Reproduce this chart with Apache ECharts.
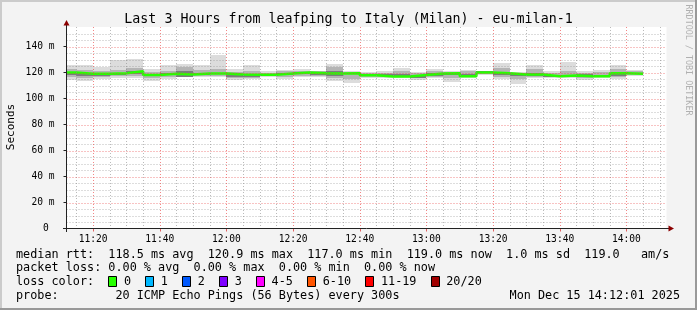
<!DOCTYPE html>
<html><head><meta charset="utf-8">
<script src="https://cdn.jsdelivr.net/npm/echarts@6/dist/echarts.min.js"></script>
<style>html,body{margin:0;padding:0;background:#f3f3f3;overflow:hidden}#c{width:697px;height:310px}</style>
</head><body><div id="c"></div>
<script>
// ---------- data ----------
const titleText = 'Last 3 Hours from leafping to Italy (Milan) - eu-milan-1';
const graphStart = '11:12:01';
const graphEnd = '14:12:01';
const stepEnds = ['11:15','11:20','11:25','11:30','11:35','11:40','11:45','11:50','11:55','12:00',
  '12:05','12:10','12:15','12:20','12:25','12:30','12:35','12:40','12:45','12:50',
  '12:55','13:00','13:05','13:10','13:15','13:20','13:25','13:30','13:35','13:40',
  '13:45','13:50','13:55','14:00','14:05'];
const median  = [120.0,119.0,119.0,119.5,120.9,118.0,119.0,118.5,119.2,119.2,118.5,118.2,118.2,119.2,120.0,119.5,119.3,119.5,117.8,117.0,117.0,118.0,119.2,119.5,117.2,120.0,119.5,118.5,118.5,117.2,117.7,117.2,117.2,119.5,119.0];
const outerLo = [114.4,113.3,115.0,115.5,116.0,113.3,115.2,116.4,116.4,116.4,114.1,115.2,116.4,115.2,116.4,116.4,113.3,112.0,115.9,115.9,115.9,114.4,115.6,112.5,115.9,117.8,115.2,110.8,115.9,115.9,115.9,114.4,115.9,115.2,117.5];
const outerHi = [125.5,126.0,124.0,129.5,130.5,122.8,125.4,126.7,125.4,133.8,122.8,125.4,121.5,122.0,122.8,121.5,126.2,121.0,120.5,121.5,123.5,120.5,123.0,121.5,122.0,121.5,127.2,120.5,125.4,121.5,128.0,121.5,122.0,125.4,122.0];
const midLo   = [116.5,116.0,116.5,117.0,117.5,115.5,116.5,117.0,117.0,117.5,116.0,116.0,117.0,116.5,117.5,117.5,116.0,115.0,116.5,116.5,116.5,115.5,116.5,115.5,116.5,118.5,116.5,115.0,116.5,116.5,116.5,115.5,116.5,116.5,118.0];
const midHi   = [122.5,122.0,121.0,122.0,123.5,120.5,121.5,124.5,122.0,122.5,120.5,121.5,120.0,121.0,121.5,121.0,124.0,120.5,119.5,120.0,121.5,119.5,121.0,120.5,121.0,121.0,123.5,119.5,122.5,120.0,121.5,120.0,120.5,122.5,121.0];
const darkLo  = [118.0,117.0,117.0,118.0,118.5,117.0,118.0,116.8,118.0,118.5,116.8,116.8,117.5,118.0,118.5,118.0,117.5,118.5,117.0,117.0,117.0,116.0,117.5,118.0,117.0,119.5,118.0,117.5,117.0,116.8,117.0,117.2,117.0,117.2,118.5];
const darkHi  = [120.5,119.5,119.0,120.0,121.0,118.5,119.5,121.0,120.0,120.0,119.0,118.5,118.5,119.5,120.5,119.5,121.0,120.0,118.0,118.5,119.0,118.0,119.5,119.5,119.0,121.0,120.0,118.5,119.5,117.8,118.0,118.5,117.8,120.0,120.0];
const xLabelTicks = ['11:20','11:40','12:00','12:20','12:40','13:00','13:20','13:40','14:00'];
const xMinorTicks = ['11:15','11:25','11:30','11:35','11:45','11:50','11:55','12:05','12:10','12:15',
  '12:25','12:30','12:35','12:45','12:50','12:55','13:05','13:10','13:15','13:25','13:30','13:35',
  '13:45','13:50','13:55','14:05','14:10'];
const yLabelTicks = [0,20,40,60,80,100,120,140];
const yMinorTicks = [5,10,15,25,30,35,45,50,55,65,70,75,85,90,95,105,110,115,125,130,135,145,150];
const yMax = 155;
const legendLines = [
  'median rtt:  118.5 ms avg  120.9 ms max  117.0 ms min  119.0 ms now  1.0 ms sd  119.0   am/s',
  'packet loss: 0.00 % avg  0.00 % max  0.00 % min  0.00 % now'
];
const lossLabels = ['0','1','2','3','4-5','6-10','11-19','20/20'];
const lossColors = ['#26ff00','#00b8ff','#0059ff','#7e00ff','#ff00ff','#ff5500','#ff0000','#a10000'];
const probeText = 'probe:        20 ICMP Echo Pings (56 Bytes) every 300s';
const dateText = 'Mon Dec 15 14:12:01 2025';
const watermark = 'RRDTOOL / TOBI OETIKER';

// ---------- helpers ----------
function toMin(s){ const p = s.split(':').map(Number); return p[0]*60 + p[1] + (p[2]||0)/60; }
function fmtMin(v){ const h = Math.floor(v/60), m = Math.round(v - h*60); return h + ':' + (m<10?'0':'') + m; }
const xMin = toMin(graphStart), xMax = toMin(graphEnd);
const ends = stepEnds.map(toMin);
const starts = ends.map((e,i)=> i===0 ? xMin : ends[i-1]);

function band(lo, hi){ return ends.map((e,i)=>[starts[i], e, lo[i], hi[i]]); }
function rectRender(color){
  return function(params, api){
    const p1 = api.coord([api.value(0), api.value(3)]);
    const p2 = api.coord([api.value(1), api.value(2)]);
    const x = Math.round(p1[0]), y = Math.round(p1[1]);
    return {type:'rect', shape:{x:x, y:y, width:Math.round(p2[0])-x, height:Math.round(p2[1])-y},
      style:{fill:color}};
  };
}
function vLine(color){
  return function(params, api){
    const b = api.coord([api.value(0), 0]);
    const t = api.coord([api.value(0), yMax]);
    const x = Math.round(b[0]) + 0.5;
    return {type:'line', shape:{x1:x, y1:t[1], x2:x, y2:b[1]}, style:{stroke:color, lineWidth:1, lineDash:[1,2]}};
  };
}
function hLine(color){
  return function(params, api){
    const l = api.coord([xMin, api.value(1)]);
    const r = api.coord([xMax, api.value(1)]);
    const y = Math.round(l[1]) + 0.5;
    return {type:'line', shape:{x1:l[0], y1:y, x2:r[0], y2:y}, style:{stroke:color, lineWidth:1, lineDash:[1,2]}};
  };
}

const medianLine = [[xMin, median[0]]].concat(ends.map((e,i)=>[e, median[i]]));

const mono = 'DejaVu Sans Mono';
const chart = echarts.init(document.getElementById('c'), null, {renderer:'canvas'});

// legend graphic layout
const cw = 7.1, lx = 16;
const lineY = [254.5, 268, 282, 296];
const graphics = [];
// border
graphics.push({type:'rect', shape:{x:0,y:0,width:697,height:2}, style:{fill:'#cbcbcb'}, silent:true});
graphics.push({type:'rect', shape:{x:0,y:0,width:2,height:310}, style:{fill:'#cbcbcb'}, silent:true});
graphics.push({type:'rect', shape:{x:0,y:308,width:697,height:2}, style:{fill:'#999999'}, silent:true});
graphics.push({type:'rect', shape:{x:695,y:0,width:2,height:310}, style:{fill:'#999999'}, silent:true});
// title
graphics.push({type:'text', x:348.5, y:19.5, style:{text:titleText, font:'13.3px "'+mono+'"', fill:'#000', align:'center', verticalAlign:'middle'}});
// y name
graphics.push({type:'text', x:11, y:127, rotation:Math.PI/2, style:{text:'Seconds', font:'11px "'+mono+'"', fill:'#000', align:'center', verticalAlign:'middle'}});
// watermark
graphics.push({type:'text', x:688, y:60, rotation:-Math.PI/2, style:{text:watermark, font:'8.4px "'+mono+'"', fill:'#b0b0b0', align:'center', verticalAlign:'middle'}});
// legend lines
legendLines.forEach((t,i)=>graphics.push({type:'text', x:lx, y:lineY[i], style:{text:t, font:'11.8px "'+mono+'"', fill:'#000', align:'left', verticalAlign:'middle'}}));
graphics.push({type:'text', x:lx, y:lineY[2], style:{text:'loss color:', font:'11.8px "'+mono+'"', fill:'#000', align:'left', verticalAlign:'middle'}});
let bx = lx + 13*cw;
lossLabels.forEach((lab,i)=>{
  graphics.push({type:'rect', shape:{x:Math.round(bx)+0.5, y:lineY[2]-5.5, width:8, height:10}, style:{fill:lossColors[i], stroke:'#000', lineWidth:1}});
  graphics.push({type:'text', x:bx+2.2*cw, y:lineY[2], style:{text:lab, font:'11.8px "'+mono+'"', fill:'#000', align:'left', verticalAlign:'middle'}});
  bx += (2.2 + lab.length + 2)*cw;
});
graphics.push({type:'text', x:lx, y:lineY[3], style:{text:probeText, font:'11.8px "'+mono+'"', fill:'#000', align:'left', verticalAlign:'middle'}});
graphics.push({type:'text', x:680, y:lineY[3], style:{text:dateText, font:'11.8px "'+mono+'"', fill:'#000', align:'right', verticalAlign:'middle'}});
// axes lines and arrows
graphics.push({type:'line', shape:{x1:63, y1:228.5, x2:670, y2:228.5}, style:{stroke:'#222', lineWidth:1}, z:100});
graphics.push({type:'line', shape:{x1:66.5, y1:232, x2:66.5, y2:24}, style:{stroke:'#222', lineWidth:1}, z:100});
graphics.push({type:'polygon', shape:{points:[[674,228.5],[668.5,225.5],[668.5,231.5]]}, style:{fill:'#8b0000'}, z:101});
graphics.push({type:'polygon', shape:{points:[[66.5,20],[63.5,25.5],[69.5,25.5]]}, style:{fill:'#8b0000'}, z:101});

const option = {
  animation:false,
  backgroundColor:'#f3f3f3',
  grid:{left:66.5, top:27, width:600, height:201.5, show:true, backgroundColor:'#ffffff', borderWidth:0},
  xAxis:{type:'value', min:xMin, max:xMax,
    axisLine:{show:false},
    axisTick:{show:true, customValues:xLabelTicks.map(toMin), length:3, lineStyle:{color:'#e06060'}},
    axisLabel:{customValues:xLabelTicks.map(toMin), formatter:v=>fmtMin(v), fontFamily:mono, fontSize:9.6, color:'#000', margin:6},
    splitLine:{show:false}},
  yAxis:{type:'value', min:0, max:yMax,
    axisLine:{show:false},
    axisTick:{show:true, customValues:yLabelTicks, length:3, lineStyle:{color:'#222'}},
    axisLabel:{customValues:yLabelTicks, formatter:v=> v===0 ? '0 ' : (v+' m'), fontFamily:mono, fontSize:9.6, color:'#000', margin:12},
    splitLine:{show:false}},
  graphic:graphics,
  series:[
    {type:'custom', silent:true, z:2, data:band(outerLo, outerHi), encode:{x:[0,1], y:[2,3]}, renderItem:rectRender('#dcdcdc')},
    {type:'custom', silent:true, z:3, data:band(midLo, midHi), encode:{x:[0,1], y:[2,3]}, renderItem:rectRender('#b4b4b4')},
    {type:'custom', silent:true, z:4, data:band(darkLo, darkHi), encode:{x:[0,1], y:[2,3]}, renderItem:rectRender('#7c7c7c')},
    {type:'line', silent:true, z:5, step:'start', data:medianLine, showSymbol:false, lineStyle:{color:'#26ff00', width:2.5}},
    {type:'custom', silent:true, z:6, data:xMinorTicks.map(t=>[toMin(t),0]), encode:{x:0,y:1}, renderItem:vLine('rgba(140,140,140,0.6)')},
    {type:'custom', silent:true, z:6, data:yMinorTicks.map(v=>[xMin,v]), encode:{x:0,y:1}, renderItem:hLine('rgba(140,140,140,0.6)')},
    {type:'custom', silent:true, z:7, data:xLabelTicks.map(t=>[toMin(t),0]), encode:{x:0,y:1}, renderItem:vLine('rgba(235,70,70,0.65)')},
    {type:'custom', silent:true, z:7, data:yLabelTicks.filter(v=>v>0).map(v=>[xMin,v]), encode:{x:0,y:1}, renderItem:hLine('rgba(235,70,70,0.65)')}
  ]
};
chart.setOption(option);
</script>
</body></html>
